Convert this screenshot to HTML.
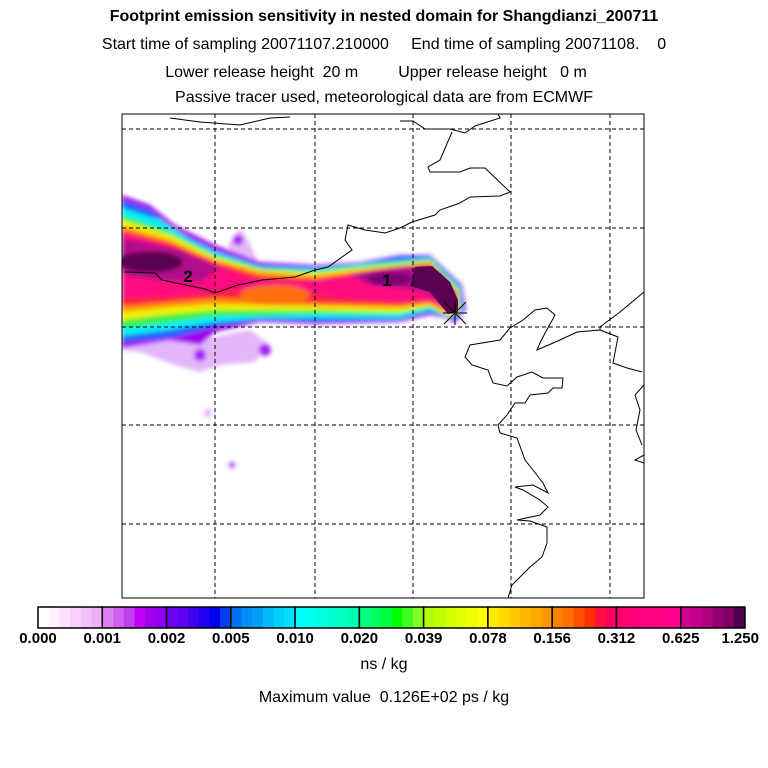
<!DOCTYPE html>
<html><head><meta charset="utf-8"><style>
body{margin:0;background:#fff;width:768px;height:768px;overflow:hidden;font-family:"Liberation Sans",sans-serif}
svg{position:absolute;left:0;top:0}
</style></head><body>
<svg width="768" height="768" viewBox="0 0 768 768">
<g font-family="Liberation Sans, sans-serif" fill="#000" text-anchor="middle">
<text x="384" y="21" font-size="16" font-weight="bold">Footprint emission sensitivity in nested domain for Shangdianzi_200711</text>
<text x="384" y="49" font-size="16">Start time of sampling 20071107.210000 &#160;&#160;&#160;&#160;End time of sampling 20071108. &#160;&#160;&#160;0</text>
<text x="376" y="77" font-size="16">Lower release height &#160;20 m &#160;&#160;&#160;&#160;&#160;&#160;&#160;&#160;Upper release height &#160;&#160;0 m</text>
<text x="384" y="102" font-size="16">Passive tracer used, meteorological data are from ECMWF</text>
</g>
<defs><clipPath id="mc"><rect x="122" y="114" width="522" height="484"/></clipPath>
<filter id="bl"><feGaussianBlur stdDeviation="2"/></filter></defs>
<g clip-path="url(#mc)">
<g filter="url(#bl)">
<g fill="#e0a8f8" opacity="0.85">
<polygon points="122,335 160,338 200,340 250,330 270,345 255,362 220,365 200,372 175,365 140,352 122,350"/>
<polygon points="228,245 240,228 248,240 258,262 232,262"/>
<circle cx="232" cy="465" r="4"/><circle cx="208" cy="413" r="4"/>
</g>
<g fill="#a020f0">
<circle cx="200" cy="355" r="6"/><circle cx="265" cy="350" r="6"/><circle cx="232" cy="465" r="2.5"/><circle cx="238" cy="240" r="5"/>
</g>
<polygon fill="#a000f0" points="122,195 150,205 175,225 215,245 260,262 315,265 360,262 400,255 430,255 462,285 466,310 455,323 445,318 430,315 400,322 315,324 260,322 215,332 200,345 170,340 122,348"/>
<polygon fill="#2060ff" points="122,200 150,210 175,230 215,250 260,265 315,267 360,264 400,256 430,256 460,285 464,310 455,320 445,316 430,313 400,320 315,322 260,320 215,327 170,338 122,342"/>
<polygon fill="#00f0f0" points="122,208 160,220 190,240 215,252 260,267 315,269 380,262 430,258 460,288 462,312 450,318 430,310 400,318 315,318 260,318 215,322 170,330 122,336"/>
<polygon fill="#40f040" points="122,215 165,230 215,255 260,268 315,271 380,264 430,259 459,289 461,312 450,317 430,308 400,314 315,314 215,316 170,322 122,328"/>
<polygon fill="#f0f000" points="122,220 170,235 215,257 260,270 315,273 380,266 430,261 458,290 460,312 448,316 430,306 400,312 315,310 215,310 170,314 122,320"/>
<polygon fill="#ff9000" points="122,226 170,240 215,260 260,272 315,276 380,268 430,263 457,292 458,312 445,312 430,304 400,308 315,306 215,304 170,307 122,312"/>
<polygon fill="#ff2040" points="122,230 170,243 215,262 260,276 315,279 360,272 400,266 430,264 456,292 457,311 443,308 430,302 400,305 315,303 260,300 215,298 170,302 122,306"/>
<polygon fill="#ff0880" points="122,233 170,246 215,264 250,278 290,282 340,278 360,272 400,267 430,265 455,292 456,310 442,306 430,300 400,302 340,298 300,290 260,288 215,292 170,296 122,298"/>
<ellipse cx="275" cy="295" rx="35" ry="10" fill="#ff7010"/>
<polygon fill="#b0108a" points="122,238 180,250 220,268 200,282 160,280 122,275"/>
<polygon fill="#b0108a" points="350,275 390,268 420,266 440,272 455,292 456,310 445,306 425,292 400,288 370,285"/>
</g>
<ellipse cx="150" cy="262" rx="32" ry="10" fill="#5a0050" filter="url(#bl)"/>
<ellipse cx="390" cy="279" rx="22" ry="6" fill="#7a0070" filter="url(#bl)"/>
<polygon fill="#5a0050" points="415,267 432,266 450,282 458,300 458,312 448,314 430,292 410,286"/>
</g>
<g fill="none" stroke="#000" stroke-width="1" clip-path="url(#mc)">
<polyline points="170,118 200,122 240,125 270,118 290,117"/>
<polyline points="400,121 413,121 425,129 450,129 465,133 475,126 500,118 498,114"/>
<polyline points="452,132 440,160 428,167 430,172 460,172 470,168 485,168 510,192 500,196 470,197 460,203 440,210 435,215 412,222 400,228 385,233 365,230 348,225 345,240 352,250 328,267 315,270 295,277 262,280 238,285 215,293 205,289 162,280 155,273 125,272"/>
<polyline points="644,292 620,312 600,327 600,330 577,332 560,340 537,350 540,343 543,337 555,315 547,308 535,310 523,320 510,328 500,340 470,345 465,357 472,365 488,370 493,383 507,386 517,377 532,372 543,378 563,378 562,388 553,388 548,393 530,395 525,403 515,403 507,415 498,425 500,433 517,438 525,460 533,470 543,483 548,493 533,485 515,487 523,490 540,500 548,507 540,515 517,520 530,521 547,527 547,543 542,557 530,567 520,577 512,585 508,598"/>
<polyline points="600,330 618,337 613,363 627,368 642,372"/>
<polyline points="644,385 635,395 640,410 636,430 642,445"/>
<polyline points="644,455 635,460 644,463"/>
</g>
<g stroke="#000" stroke-width="1" stroke-dasharray="4,3">
<line x1="215" y1="114" x2="215" y2="598"/><line x1="315" y1="114" x2="315" y2="598"/><line x1="413" y1="114" x2="413" y2="598"/><line x1="511" y1="114" x2="511" y2="598"/><line x1="610" y1="114" x2="610" y2="598"/>
<line x1="122" y1="129" x2="644" y2="129"/><line x1="122" y1="228" x2="644" y2="228"/><line x1="122" y1="327" x2="644" y2="327"/><line x1="122" y1="425" x2="644" y2="425"/><line x1="122" y1="524" x2="644" y2="524"/>
</g>
<g stroke="#000" stroke-width="1">
<line x1="443" y1="313" x2="467" y2="313"/><line x1="455" y1="301" x2="455" y2="325"/><line x1="444" y1="302" x2="466" y2="324"/><line x1="444" y1="324" x2="466" y2="302"/>
</g>
<text x="188" y="282" font-size="17" font-weight="bold" text-anchor="middle">2</text>
<text x="387" y="286" font-size="17" font-weight="bold" text-anchor="middle">1</text>
<rect x="122" y="114" width="522" height="484" fill="none" stroke="#000" stroke-width="1"/>
<g id="cbar"></g>
<text x="384" y="669" font-size="16" text-anchor="middle">ns / kg</text>
<text x="384" y="702" font-size="16" text-anchor="middle">Maximum value &#160;0.126E+02 ps / kg</text>
</svg>
<script>
const tickLabels=["0.000","0.001","0.002","0.005","0.010","0.020","0.039","0.078","0.156","0.312","0.625","1.250"];
const segColors=[
["#ffffff","#fff0ff","#fde0fd","#f8d0f8","#f0c0f8","#f0b0f8"],
["#e080f0","#d060f0","#c040f0","#c000f8","#a000f0","#9000f0"],
["#7000f0","#6000f0","#4000f0","#2000f0","#0000f0","#0040f0"],
["#0070f0","#0090f8","#00a0f8","#00b8f8","#00d0f8","#00e0f8"],
["#00ffff","#00fff0","#00ffe0","#00ffd0","#00ffc0","#00ffb0"],
["#00ff80","#00ff60","#00ff40","#00ff00","#40ff20","#80ff20"],
["#b0ff00","#c0ff00","#d0ff00","#e0ff00","#f0ff00","#ffff00"],
["#ffe800","#ffd800","#ffc800","#ffb800","#ffa800","#ff9800"],
["#ff8000","#ff7000","#ff5000","#ff3000","#ff1040","#ff0060"],
["#ff0070","#ff0078","#ff0080","#ff0080","#ff0088","#ff0090"],
["#d00090","#c00088","#b00080","#900070","#800060","#500050"]];
const g=document.getElementById('cbar'),NS="http://www.w3.org/2000/svg";
const x0=38,x1=745,y0=607,h=21,sw=(x1-x0)/segColors.length;
segColors.forEach((cs,i)=>{cs.forEach((c,j)=>{const r=document.createElementNS(NS,'rect');


const w=sw/cs.length;r.setAttribute('x',x0+i*sw+j*w);r.setAttribute('y',y0);r.setAttribute('width',w+0.5);r.setAttribute('height',h);r.setAttribute('fill',c);g.appendChild(r);});
const b=document.createElementNS(NS,'rect');


b.setAttribute('x',x0+i*sw);b.setAttribute('y',y0);b.setAttribute('width',sw);b.setAttribute('height',h);b.setAttribute('fill','none');b.setAttribute('stroke','#000');b.setAttribute('stroke-width','1.5');g.appendChild(b);});
tickLabels.forEach((t,i)=>{const e=document.createElementNS(NS,'text');


let x=x0+i*sw;let a='middle';if(i===tickLabels.length-1){x=x1+14;a='end';}
e.setAttribute('x',x);e.setAttribute('y',643);e.setAttribute('text-anchor',a);e.setAttribute('font-size','15');e.setAttribute('font-weight','bold');e.setAttribute('font-family','Liberation Sans, sans-serif');e.textContent=t;g.appendChild(e);});
</script>
</body></html>
